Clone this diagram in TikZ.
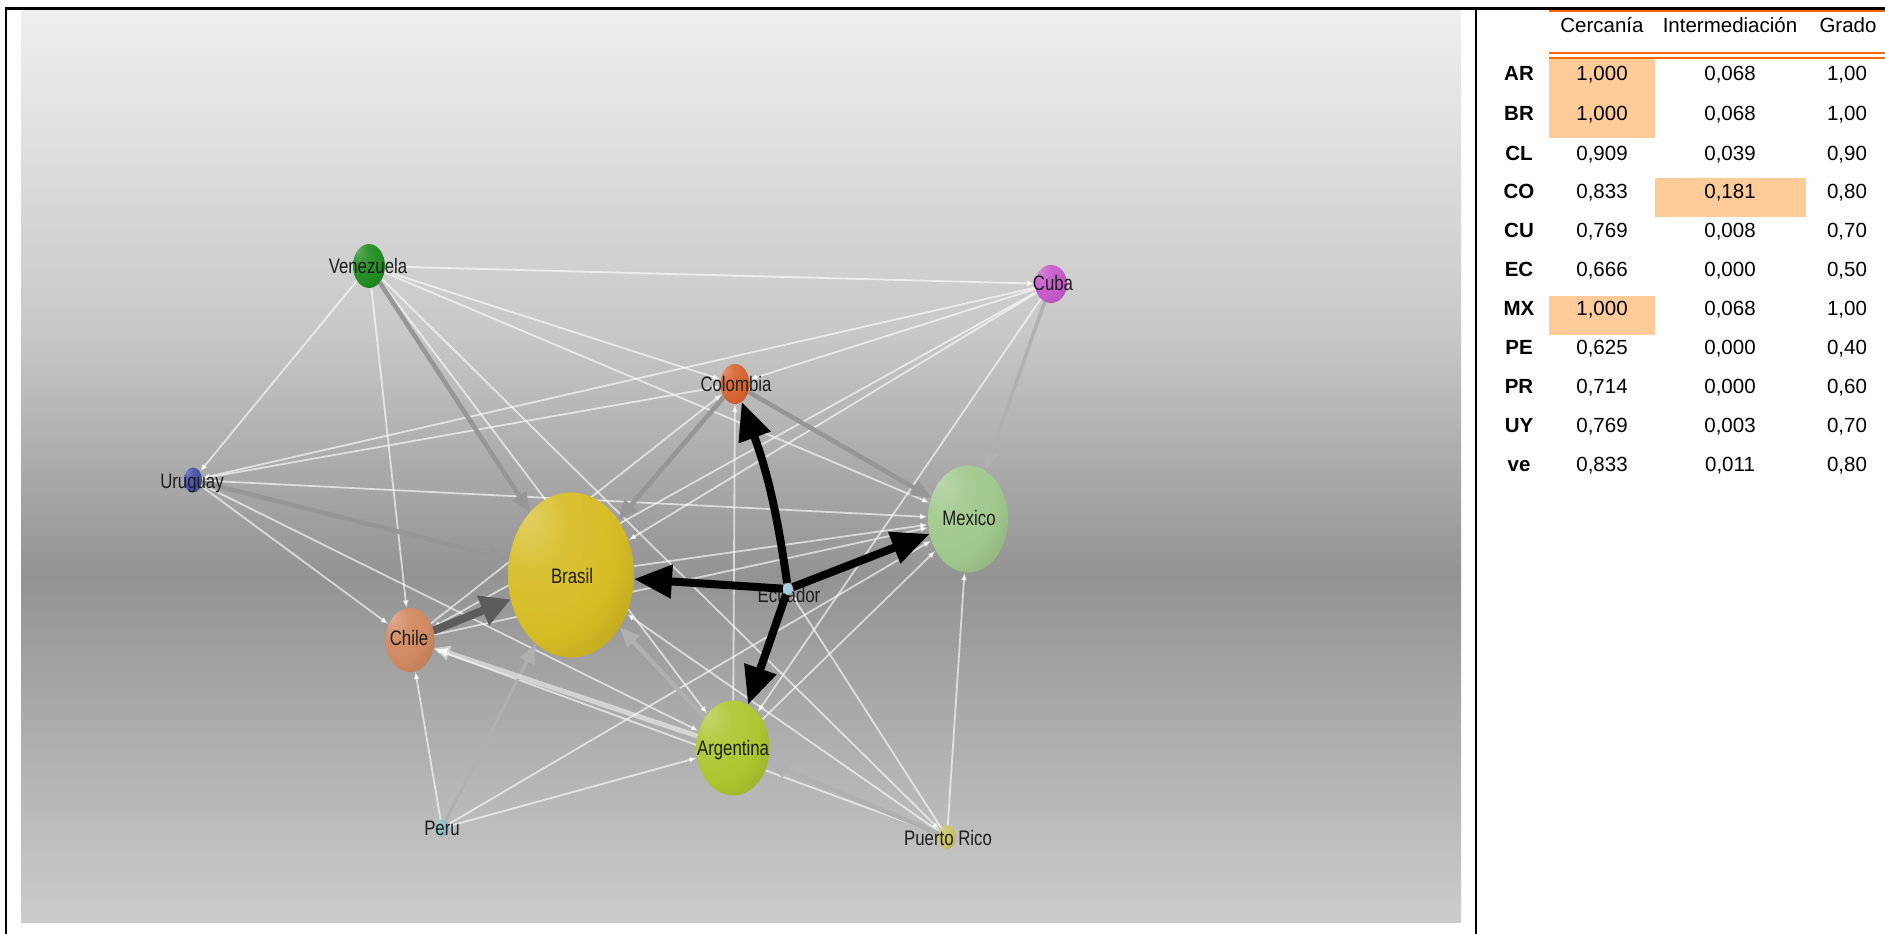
\documentclass[tikz,border=0pt]{standalone}
\usepackage{fontspec}
\setmainfont{Liberation Sans}
\usepackage{graphicx}
\usetikzlibrary{arrows.meta,shapes.geometric}
\pgfdeclarelayer{bg}
\pgfdeclarelayer{edges}
\pgfsetlayers{bg,edges,main}
\colorlet{sphcol}{gray}
\pgfdeclareradialshading[sphcol]{sphere}{\pgfqpoint{-18bp}{18bp}}{%
 color(0bp)=(sphcol!72!white); color(14bp)=(sphcol!92!white); color(30bp)=(sphcol);
 color(50bp)=(sphcol!82!black); color(90bp)=(sphcol!68!black)}
\definecolor{vecol}{RGB}{34,140,34}
\definecolor{cucol}{RGB}{196,90,200}
\definecolor{cocol}{RGB}{214,100,50}
\definecolor{uycol}{RGB}{70,80,165}
\definecolor{mxcol}{RGB}{160,200,140}
\definecolor{brcol}{RGB}{214,188,36}
\definecolor{eccol}{RGB}{160,200,220}
\definecolor{clcol}{RGB}{208,136,96}
\definecolor{arcol}{RGB}{172,198,48}
\definecolor{pecol}{RGB}{140,190,195}
\definecolor{prcol}{RGB}{200,196,100}
\definecolor{labcol}{RGB}{30,30,30}
\definecolor{peach}{RGB}{255,204,153}
\definecolor{orangeline}{RGB}{255,102,0}
\definecolor{bgA}{RGB}{239,239,239}
\definecolor{bgB}{RGB}{200,200,200}
\definecolor{bgC}{RGB}{147,147,147}
\definecolor{bgD}{RGB}{204,204,204}
\definecolor{gA}{RGB}{150,150,150}
\definecolor{gB}{RGB}{176,176,176}
\definecolor{gC}{RGB}{92,92,92}
\newcommand\lb[1]{\scalebox{0.8}[1]{#1}}
\newcommand\tabrow[5]{%
 \node[rowlab] (lab#1) at (1519,#5) {#1};
 \node[tabtxt] (cer#1) at (1602,#5) {#2};
 \node[tabtxt] (int#1) at (1730,#5) {#3};
 \node[tabtxt] (gra#1) at (1847,#5) {#4};}
\begin{document}
\begin{tikzpicture}[x=1pt,y=-1pt,
  ball/.style={ellipse, inner sep=0pt, outer sep=0pt, draw=none},
  sph/.code={\colorlet{sphcol}{#1}\pgfkeysalso{/tikz/shading=sphere}},
  lbl/.style={font=\fontsize{21}{21}\selectfont, text=labcol, inner sep=0pt, anchor=base, yshift=-7.5pt},
  thinedge/.style={draw=white, draw opacity=0.62, line width=1.8pt, -{Latex[length=8pt,width=6pt]}},
  gedge/.style={draw=#1, line width=4.5pt, -{Triangle[length=20pt,width=16pt]}},
  dedge/.style={draw=gC, line width=8pt, -{Triangle[length=30pt,width=30pt]}},
  wedge/.style={draw=white, draw opacity=0.5, line width=5pt, -{Triangle[length=16pt,width=14pt]}},
  bedge/.style={draw=black, line width=8pt, -{Triangle[length=38pt,width=32pt]}},
  tabtxt/.style={font=\fontsize{20.5}{24}\selectfont, anchor=base, inner sep=0pt, yshift=-7.3pt},
  rowlab/.style={tabtxt, font=\fontsize{20.5}{24}\selectfont\bfseries},
  hl/.style={fill=peach, draw=none},
  orl/.style={draw=orangeline, line width=2pt},
  frame/.style={draw=black, line width=2.5pt}
]
\useasboundingbox (0,0) rectangle (1885,934);
\begin{pgfonlayer}{bg}
\fill[white] (0,0) rectangle (1885,934);
\shade[top color=bgA, bottom color=bgB] (21,10) rectangle (1461,330.5);
\shade[top color=bgB, bottom color=bgC] (21,330) rectangle (1461,576.5);
\shade[top color=bgC, bottom color=bgD] (21,576) rectangle (1461,922);
\end{pgfonlayer}

% balls
\node[ball, sph=vecol, minimum width=32pt, minimum height=44pt] (VE) at (369,266) {};
\node[ball, sph=cucol, minimum width=32pt, minimum height=38pt] (CU) at (1051,284) {};
\node[ball, sph=cocol, minimum width=29pt, minimum height=40pt] (CO) at (735,384) {};
\node[ball, sph=uycol, minimum width=18pt, minimum height=25pt] (UY) at (193,480) {};
\node[ball, sph=mxcol, minimum width=80pt, minimum height=107pt] (MX) at (968,519) {};
\node[ball, sph=brcol, minimum width=126pt, minimum height=165pt] (BR) at (571,575) {};
\node[ball, sph=eccol, minimum width=10pt, minimum height=12pt] (EC) at (788,589) {};
\node[ball, sph=clcol, minimum width=49pt, minimum height=64pt] (CL) at (410,640) {};
\node[ball, sph=arcol, minimum width=73pt, minimum height=95pt] (AR) at (733,748) {};
\node[ball, sph=pecol, minimum width=14pt, minimum height=17pt] (PE) at (442,828) {};
\node[ball, sph=prcol, minimum width=18pt, minimum height=24pt] (PR) at (947,837) {};

% labels
\node[lbl] (lVE) at (368,266) {\lb{Venezuela}};
\node[lbl] (lCU) at (1053,283) {\lb{Cuba}};
\node[lbl] (lCO) at (736,384) {\lb{Colombia}};
\node[lbl] (lUY) at (192,481) {\lb{Uruguay}};
\node[lbl] (lMX) at (969,518) {\lb{Mexico}};
\node[lbl] (lBR) at (572,576) {\lb{Brasil}};
\node[lbl] (lCL) at (409,638) {\lb{Chile}};
\node[lbl] (lAR) at (733,748) {\lb{Argentina}};
\node[lbl] (lPE) at (442,828) {\lb{Peru}};
\node[lbl] (lPR) at (948,838) {\lb{Puerto Rico}};

\begin{pgfonlayer}{edges}
% thin edges
\foreach \a/\b in {VE/UY, VE/CL, VE/CU, VE/CO, VE/PR, UY/CL, UY/CO, CU/UY, CL/CO, CU/CL,
  PR/CL, CU/CO, PR/EC, AR/MX, AR/CO, CU/AR, PE/AR, UY/AR, VE/AR, BR/MX, CU/BR, PR/BR,
  CL/MX, PE/MX, PR/MX, UY/MX, VE/MX, PE/CL}
  \draw[thinedge] (\a) -- (\b);
% gray edges
\draw[gedge=gA] (VE) -- (BR);
\draw[gedge=gA] (UY) -- (BR);
\draw[gedge=gA] (CO) -- (BR);
\draw[gedge=gA] (CO) -- (MX);
\draw[gedge=gB, line width=3.5pt] (CU) -- (MX);
\draw[gedge=gB] (AR) -- (BR);
\draw[gedge=gB] (PR) -- (AR);
\draw[gedge=gB, line width=3pt] (PE) -- (BR);
\draw[wedge] (AR) -- (CL);
\draw[dedge] (CL) -- (BR);
% Ecuador label under the black arrows
\node[lbl] (lEC) at (789,595) {\lb{Ecuador}};
\draw[bedge] (EC) to[bend right=6] (CO);
\draw[bedge] (EC) -- (BR);
\draw[bedge] (EC) -- (MX);
\draw[bedge] (EC) -- (AR);
\end{pgfonlayer}

% frame
\draw[frame] (6,934) -- (6,8.5) -- (1885,8.5);
\draw[frame] (1476,8.5) -- (1476,934);

% table
\fill[hl] (1549,57.7) rectangle (1655,138);
\fill[hl] (1655,178) rectangle (1806,217);
\fill[hl] (1549,296) rectangle (1655,335);
\draw[orl] (1549,11.2) -- (1885,11.2);
\draw[orl] (1549,53.3) -- (1885,53.3);
\draw[orl] (1549,57.7) -- (1885,57.7);
\node[tabtxt] (hCer) at (1602,25) {Cercanía};
\node[tabtxt] (hInt) at (1730,25) {Intermediación};
\node[tabtxt] (hGra) at (1848,25) {Grado};
\tabrow{AR}{1,000}{0,068}{1,00}{73}
\tabrow{BR}{1,000}{0,068}{1,00}{113}
\tabrow{CL}{0,909}{0,039}{0,90}{153}
\tabrow{CO}{0,833}{0,181}{0,80}{191}
\tabrow{CU}{0,769}{0,008}{0,70}{230}
\tabrow{EC}{0,666}{0,000}{0,50}{269}
\tabrow{MX}{1,000}{0,068}{1,00}{308}
\tabrow{PE}{0,625}{0,000}{0,40}{347}
\tabrow{PR}{0,714}{0,000}{0,60}{386}
\tabrow{UY}{0,769}{0,003}{0,70}{425}
\tabrow{ve}{0,833}{0,011}{0,80}{464}
\end{tikzpicture}
\end{document}
